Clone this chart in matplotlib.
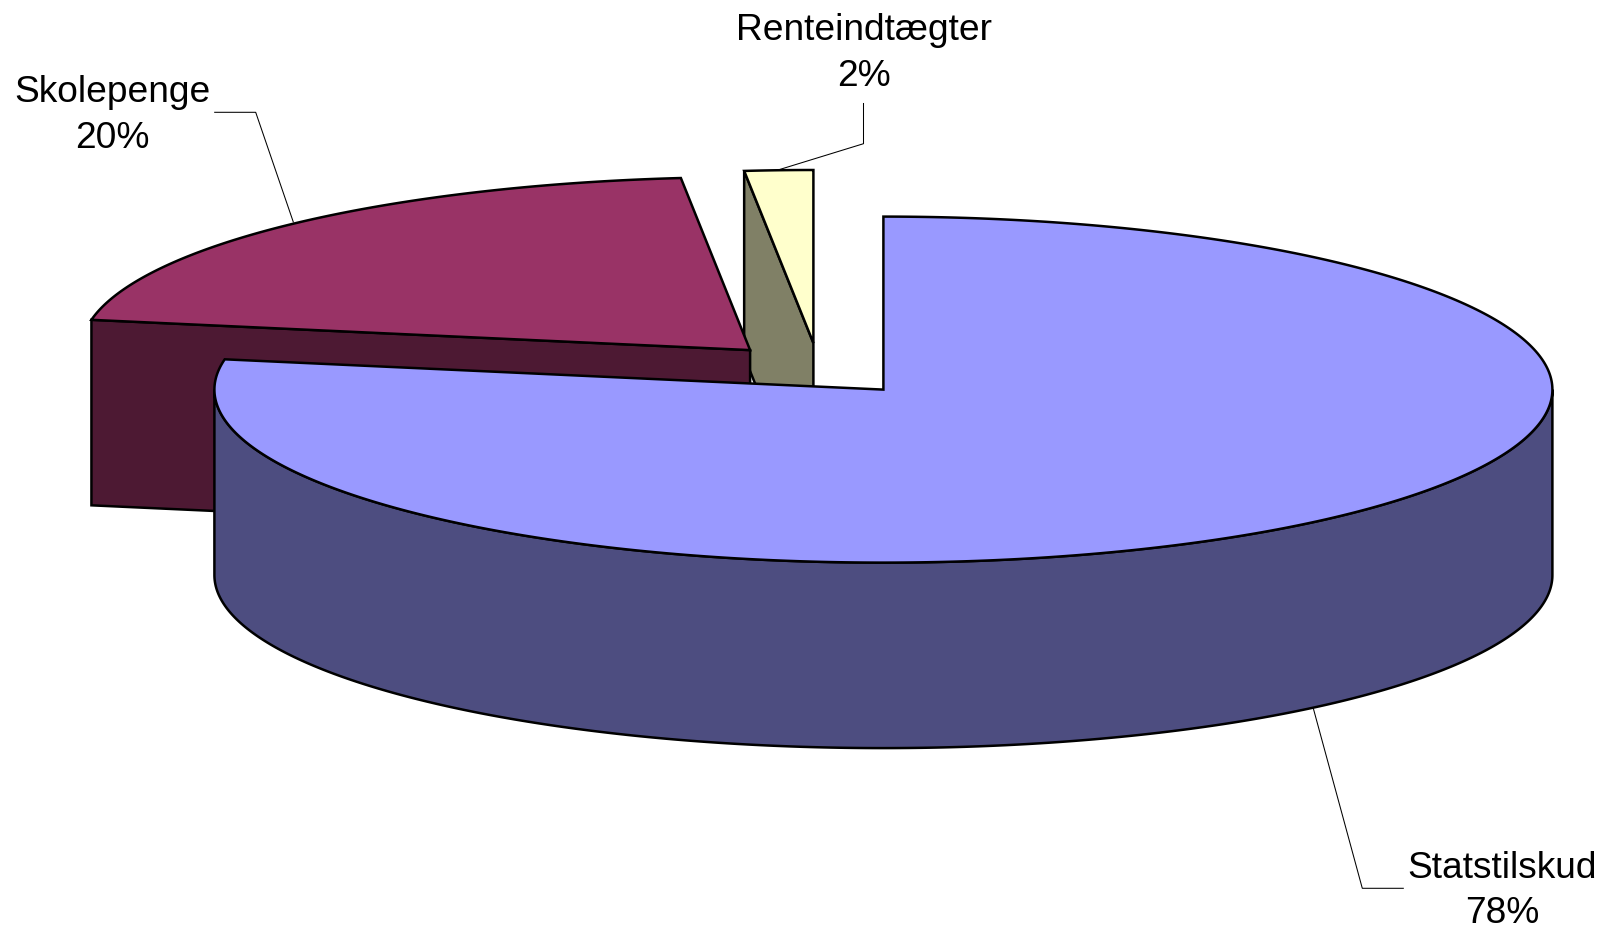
import numpy as np
import matplotlib
matplotlib.use("Agg")
import matplotlib.pyplot as plt

# Data
categories = ["Statstilskud", "Skolepenge", "Renteindtægter"]
values = [77.8, 20.55, 1.65]
percent_labels = ["78%", "20%", "2%"]

# Style
top_colors = ["#9999FF", "#993366", "#FFFFCC"]
side_colors = ["#4D4D80", "#4D1933", "#808066"]
explode = [(0.0, 0.0), (-133.3, -39.5), (-70.0, -46.6)]
CX, CY, RX, RY, DEPTH = 883.4, 389.6, 669.0, 173.0, 185.5
LW = 1.8

plt.rcParams["font.family"] = ["Liberation Sans", "DejaVu Sans"]
fig = plt.figure(figsize=(16.1, 9.31), dpi=100)
ax = fig.add_axes([0, 0, 1, 1])
ax.set_xlim(0, 1610)
ax.set_ylim(931, 0)
ax.axis("off")


def rim(theta, ox, oy, dz=0.0):
    return CX + ox + RX * np.sin(theta), CY + oy - RY * np.cos(theta) + dz


edges = np.cumsum([0] + values) / sum(values) * 2 * np.pi
slices = [(i, edges[i], edges[i + 1]) for i in range(len(values))]


def draw_slice(i, a, b):
    ox, oy = explode[i]
    kw = dict(edgecolor="black", linewidth=LW, joinstyle="miter")
    ax_, ay_ = CX + ox, CY + oy
    # the flat start-side face looks towards the viewer when it lies back-left
    if np.sin(a) < 0 and a > np.pi:
        ex, ey = rim(a, ox, oy)
        ax.fill([ex, ax_, ax_, ex], [ey, ay_, ay_ + DEPTH, ey + DEPTH],
                facecolor=side_colors[i], **kw)
    # outer wall, front half only
    lo, hi = max(a, np.pi / 2), min(b, 3 * np.pi / 2)
    if hi > lo:
        t = np.linspace(lo, hi, 300)
        x, y = rim(t, ox, oy)
        xb, yb = rim(t[::-1], ox, oy, DEPTH)
        ax.fill(np.r_[x, xb], np.r_[y, yb], facecolor=side_colors[i], **kw)
    # top
    t = np.linspace(a, b, 400)
    x, y = rim(t, ox, oy)
    ax.fill(np.r_[ax_, x], np.r_[ay_, y], facecolor=top_colors[i], **kw)


# back to front
for i, a, b in reversed(slices):
    draw_slice(i, a, b)

# leader lines
leaders = [
    ([1313.3, 1362.3, 1403.3], [708.3, 888.3, 888.3]),
    ([214.7, 255.7, 293.3], [112.3, 112.3, 222.0]),
    ([778.0, 863.5, 863.5], [170.0, 143.7, 103.5]),
]
for lx, ly in leaders:
    ax.plot(lx, ly, color="black", lw=0.75, solid_joinstyle="miter")

# labels (y is the baseline of the last line)
label_pos = [(1502.5, 923.3), (112, 148.0), (864, 85.5)]
for name, pct, (tx, ty) in zip(categories, percent_labels, label_pos):
    ax.text(tx, ty, f"{name}\n{pct}", ha="center", va="baseline",
            fontsize=26.7, color="black", linespacing=1.39, multialignment="center")

fig.savefig("out.png", dpi=100, facecolor="white")
